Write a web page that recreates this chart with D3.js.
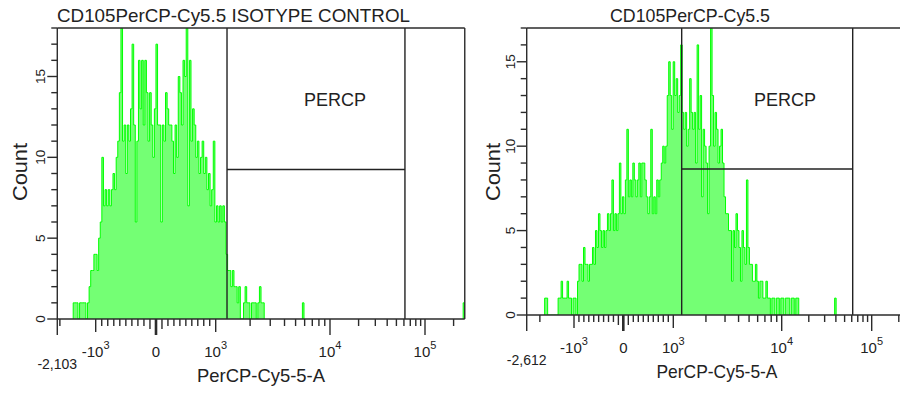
<!DOCTYPE html>
<html>
<head>
<meta charset="utf-8">
<script src="https://cdn.jsdelivr.net/npm/d3@7"></script>
<style>
  html, body { margin: 0; padding: 0; background: #fff; }
  svg { display: block; }
  text { font-family: "Liberation Sans", Arial, sans-serif; fill: #222; }
</style>
</head>
<body>
<svg id="chart" width="900" height="396"></svg>
<script>
'use strict'

// counts per display channel (256 channels across the x axis)
const isoStart = 10
const isoCounts = [
  1, 1, 1, 0, 1, 1, 1, 1, 0, 1,
  2, 3, 3, 4, 4, 3, 5, 6, 10, 7,
  8, 7, 8, 7, 8, 9, 8, 10, 11, 14,
  18, 11, 12, 9, 12, 11, 13, 17, 12, 6,
  11, 16, 13, 16, 12, 16, 14, 11, 14, 12,
  10, 13, 17, 12, 12, 6, 12, 11, 14, 13,
  12, 12, 11, 9, 12, 10, 15, 14, 12, 16,
  15, 18, 7, 16, 11, 13, 12, 10, 11, 9,
  10, 11, 9, 10, 8, 9, 7, 8, 11, 6,
  7, 6, 7, 6, 7, 6, 4, 3, 3, 2,
  3, 2, 2, 1, 2, 0, 0, 1, 2, 1,
  1, 0, 1, 1, 1, 0, 1, 2, 1, 1
]
const isoExtra = [[154, 1], [255, 1]]

const stainStart = 12
const stainCounts = [
  1, 1, 0, 0, 0, 0, 0, 0,
  0, 1, 1, 2, 1, 1, 1, 2, 1, 1,
  0, 1, 1, 0, 2, 3, 3, 2, 4, 3,
  3, 2, 3, 3, 4, 3, 5, 4, 6, 5,
  4, 5, 4, 5, 6, 5, 6, 8, 5, 6,
  5, 6, 9, 6, 7, 6, 8, 11, 7, 8,
  7, 9, 8, 7, 8, 9, 7, 9, 9, 8,
  7, 6, 7, 11, 6, 7, 6, 8, 7, 8,
  9, 10, 9, 10, 13, 15, 13, 11, 15, 13,
  14, 12, 13, 16, 12, 11, 12, 10, 11, 14,
  12, 11, 12, 9, 16, 11, 13, 7, 11, 10,
  9, 6, 10, 17, 13, 10, 12, 11, 9, 10,
  11, 9, 7, 6, 6, 5, 5, 2, 5, 4,
  6, 5, 4, 2, 5, 4, 3, 8, 4, 3,
  3, 2, 2, 3, 2, 1, 2, 2, 1, 1,
  2, 1, 1, 0, 1, 1, 0, 1, 1, 0,
  1, 1, 0, 1, 1, 1, 0, 1, 1, 0,
  1, 1
]
const stainExtra = [[206, 1]]

const titles = ['CD105PerCP-Cy5.5 ISOTYPE CONTROL', 'CD105PerCP-Cy5.5']
const xTitle = 'PerCP-Cy5-5-A'
const yTitle = 'Count'
const gateName = 'PERCP'
const xMins = [-2103, -2612]
const xMinLabels = ['-2,103', '-2,612']
const xMax = 262144
const yMaxes = [18, 17]
const yTickLabels = [0, 5, 10, 15]
const xTickLabels = [
  { v: -1000, base: '-10', exp: '3' },
  { v: 0, base: '0' },
  { v: 1000, base: '10', exp: '3' },
  { v: 10000, base: '10', exp: '4' },
  { v: 100000, base: '10', exp: '5' }
]
const gateLow = [1256, 1195]
const gateHigh = [61500, 61500]
const gateCount = [9.25, 8.65]

const channels = 256
const svg = d3.select('#chart')

// biexponential display: linear around zero, log decades outside
function biex (a) {
  const lin = d3.scaleLinear().domain([-1000, 0, 1000]).range([a.xm, a.x0, a.xp])
  const dec1 = d3.scaleLog().domain([1000, 10000]).range([a.xp, a.x4])
  const dec2 = d3.scaleLog().domain([10000, 100000]).range([a.x4, a.x5])
  const neg = d3.scaleLog().domain([1000, 10000]).range([a.xm, a.xm - a.dn])
  return v => v < -1000 ? neg(-v) : v <= 1000 ? lin(v) : v <= 10000 ? dec1(v) : dec2(v)
}

function stepPoints (start, counts) {
  const pts = [[start, 0]]
  counts.forEach((c, i) => pts.push([start + i, c]))
  pts.push([start + counts.length, counts[counts.length - 1]])
  pts.push([start + counts.length, 0])
  return pts
}

const panels = [
  {
    counts: isoCounts, start: isoStart, extra: isoExtra,
    top: 28, bottom: 319,
    anchors: { dn: 119, xm: 95.7, x0: 156, xp: 215.7, x4: 330, x5: 425 },
    titleX: 233.5, titleW: 353, gateLabelX: 335, yTitleX: 27, xTitleX: 261, xTitleW: 128
  },
  {
    counts: stainCounts, start: stainStart, extra: stainExtra,
    top: 28, bottom: 315,
    anchors: { dn: 113.4, xm: 574, x0: 623.3, xp: 673.3, x4: 781.7, x5: 871.7 },
    titleX: 690, titleW: 160, gateLabelX: 785, yTitleX: 500, xTitleX: 717, xTitleW: 121
  }
]

const axisColor = '#2b2b2b'

panels.forEach((p, k) => {
  const x = biex(p.anchors)
  const left = x(xMins[k])
  const right = x(xMax)
  const ch = d3.scaleLinear().domain([0, channels]).range([left, right])
  const y = d3.scaleLinear().domain([0, yMaxes[k]]).range([p.bottom, p.top])
  const g = svg.append('g')

  g.append('clipPath').attr('id', 'clip' + k)
    .append('rect')
    .attr('x', left).attr('y', p.top)
    .attr('width', right - left).attr('height', p.bottom - p.top)

  // histogram
  const hist = g.append('g').attr('clip-path', 'url(#clip' + k + ')')
  const runs = [{ start: p.start, counts: p.counts }]
    .concat(p.extra.map(e => ({ start: e[0], counts: [e[1]] })))
  runs.forEach(r => {
    const pts = stepPoints(r.start, r.counts)
    hist.append('path').datum(pts)
      .attr('fill', '#74ff74')
      .attr('d', d3.area().curve(d3.curveStepAfter)
        .x(d => ch(d[0])).y0(y(0)).y1(d => y(d[1])))
    hist.append('path').datum(pts)
      .attr('fill', 'none')
      .attr('stroke', '#00ff00')
      .attr('stroke-width', 1)
      .attr('d', d3.line().curve(d3.curveStepAfter)
        .x(d => ch(d[0])).y(d => y(d[1])))
  })

  // gate
  const gx1 = x(gateLow[k])
  const gx2 = x(gateHigh[k])
  const gy = y(gateCount[k])
  const gate = g.append('g').attr('stroke', '#222').attr('stroke-width', 1.4)
  gate.append('line').attr('x1', gx1).attr('x2', gx1).attr('y1', p.top).attr('y2', p.bottom)
  gate.append('line').attr('x1', gx2).attr('x2', gx2).attr('y1', p.top).attr('y2', p.bottom)
  gate.append('line').attr('x1', gx1).attr('x2', gx2).attr('y1', gy).attr('y2', gy)
  g.append('text')
    .attr('x', p.gateLabelX).attr('y', p.top + 78)
    .attr('text-anchor', 'middle')
    .style('font-size', '18px')
    .text(gateName)

  // frame and axes
  const frame = g.append('g').attr('stroke', axisColor).attr('stroke-width', 1.4).attr('fill', 'none')
  frame.append('line').attr('x1', left).attr('x2', right).attr('y1', p.top).attr('y2', p.top)
  frame.append('line').attr('x1', right).attr('x2', right).attr('y1', p.top).attr('y2', p.bottom)
  frame.append('line').attr('x1', left).attr('x2', left).attr('y1', p.top).attr('y2', p.bottom + 16)
  frame.append('line').attr('x1', left).attr('x2', right).attr('y1', p.bottom).attr('y2', p.bottom)

  // y ticks
  d3.range(0, yMaxes[k] + 1).forEach(v => {
    const major = v % 5 === 0
    frame.append('line')
      .attr('x1', left - (major ? 10 : 6)).attr('x2', left)
      .attr('y1', y(v)).attr('y2', y(v))
  })
  yTickLabels.forEach(v => {
    g.append('text')
      .attr('transform', 'translate(' + (left - 12) + ',' + y(v) + ') rotate(-90)')
      .attr('text-anchor', 'middle')
      .style('font-size', '13.5px')
      .text(v)
  })

  // x ticks
  const xTicks = []
  xTicks.push({ v: -2000, len: 7 })
  d3.range(-900, 1000, 100).forEach(v => {
    if (v !== 0) xTicks.push({ v: v, len: Math.abs(v) === 100 ? 10 : 7 })
  })
  ;[1000, 10000].forEach(d => {
    d3.range(2, 10).forEach(m => xTicks.push({ v: d * m, len: 7 }))
  })
  xTicks.push({ v: 200000, len: 7 })
  xTicks.push({ v: -1000, len: 13 })
  xTicks.push({ v: 1000, len: 13 })
  xTicks.push({ v: 10000, len: 16 })
  xTicks.push({ v: 100000, len: 16 })
  xTicks.forEach(t => {
    if (t.v < xMins[k] || t.v > xMax) return
    frame.append('line')
      .attr('x1', x(t.v)).attr('x2', x(t.v))
      .attr('y1', p.bottom).attr('y2', p.bottom + t.len)
  })
  frame.append('line')
    .attr('stroke-width', 2.6)
    .attr('x1', x(0)).attr('x2', x(0))
    .attr('y1', p.bottom).attr('y2', p.bottom + 16)

  xTickLabels.forEach(t => {
    const txt = g.append('text')
      .attr('x', x(t.v)).attr('y', p.bottom + 38)
      .attr('text-anchor', 'middle')
      .style('font-size', '15px')
    txt.append('tspan').text(t.base)
    if (t.exp) {
      txt.append('tspan').attr('dy', -8).style('font-size', '11px').text(t.exp)
    }
  })
  g.append('text')
    .attr('x', left).attr('y', p.bottom + 50)
    .attr('text-anchor', 'middle')
    .style('font-size', '14px')
    .text(xMinLabels[k])

  // titles
  g.append('text')
    .attr('x', p.titleX).attr('y', 22)
    .attr('text-anchor', 'middle')
    .attr('textLength', p.titleW)
    .attr('lengthAdjust', 'spacingAndGlyphs')
    .style('font-size', '19px')
    .text(titles[k])
  g.append('text')
    .attr('x', p.xTitleX).attr('y', p.bottom + 63)
    .attr('text-anchor', 'middle')
    .attr('textLength', p.xTitleW)
    .attr('lengthAdjust', 'spacingAndGlyphs')
    .style('font-size', '19px')
    .text(xTitle)
  g.append('text')
    .attr('transform', 'translate(' + p.yTitleX + ',' + 172 + ') rotate(-90)')
    .attr('text-anchor', 'middle')
    .attr('textLength', 58)
    .attr('lengthAdjust', 'spacingAndGlyphs')
    .style('font-size', '20px')
    .text(yTitle)
})
</script>
</body>
</html>
